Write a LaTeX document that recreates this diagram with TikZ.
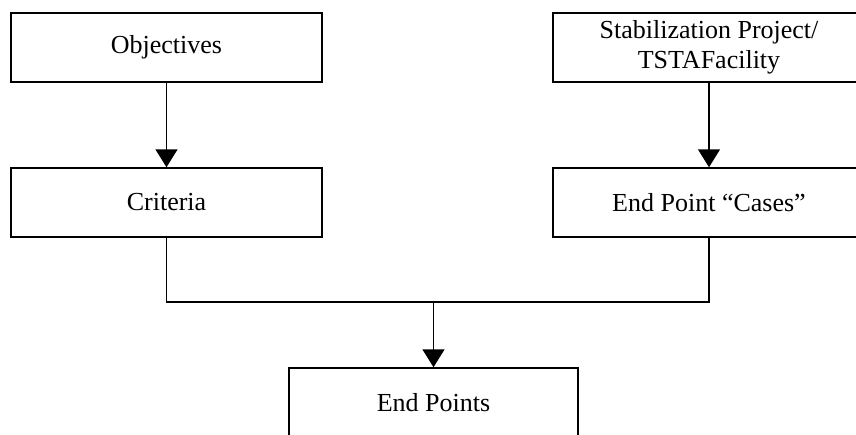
\documentclass[tikz,border=0pt]{standalone}
\usepackage{fontspec}
\setmainfont{Liberation Serif}
\usetikzlibrary{arrows.meta}
\begin{document}
\begin{tikzpicture}[x=0.75pt,y=-0.75pt,
  box/.style={draw, line width=1.1pt, rectangle, minimum width=311*0.75pt, minimum height=69*0.75pt, align=center, inner sep=0pt,
    font=\fontsize{19.5pt}{22.5pt}\selectfont},
  conn/.style={line width=1.1pt},
  arr/.style={line width=1.1pt, -{Triangle[width=16.5pt,length=13.5pt]}}]
\useasboundingbox (0,0) rectangle (856,435);
\clip (0,0) rectangle (856,435);
\node[box] (obj) at (166.5,47.5) {Objectives};
\node[box] (crit) at (166.5,202.5) {Criteria};
\node[box, minimum width=312*0.75pt] (stab) at (709,47.5) {Stabilization Project/\\TSTAFacility};
\node[box, minimum width=312*0.75pt] (cases) at (709,202.5) {End Point “Cases”};
\node[box, minimum width=289*0.75pt, minimum height=70*0.75pt] (endp) at (433.5,403) {End Points};
\coordinate (j) at (433.5,302);
\draw[arr] (obj.south) -- (crit.north);
\draw[arr] (stab.south) -- (cases.north);
\draw[conn] (crit.south) |- (j) -| (cases.south);
\draw[arr] (j) -- (endp.north);
\end{tikzpicture}
\end{document}
